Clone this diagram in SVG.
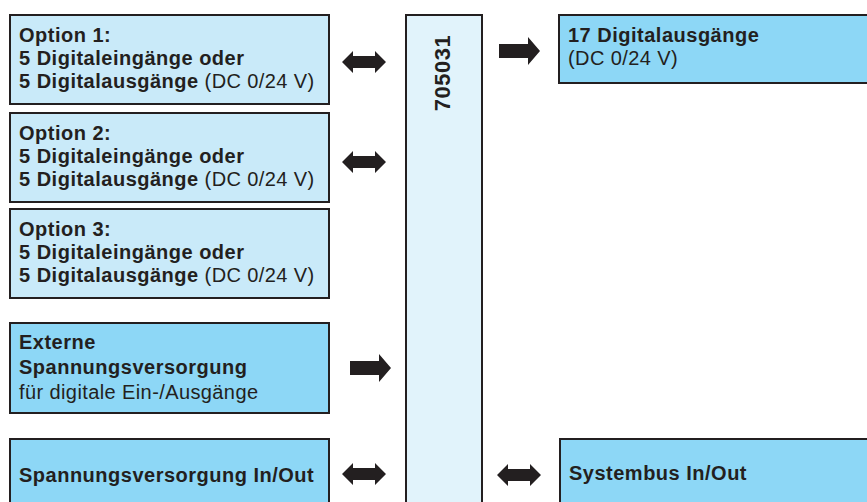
<svg xmlns="http://www.w3.org/2000/svg" width="867" height="502" viewBox="0 0 867 502">
<style>
.box{stroke:#231f20;stroke-width:2}
.l{fill:#c9eaf9}
.d{fill:#8dd7f6}
.c{fill:#e1f3fb}
text{font-family:"Liberation Sans",Arial,sans-serif;font-size:20px;fill:#231f20;letter-spacing:0.4px}
.b{font-weight:bold;letter-spacing:0.5px}
.arr{fill:#231f20}
</style>
<defs>
<path id="dbl" d="M0 0 L11 -11 L11 -6 L33 -6 L33 -11 L44 0 L33 11 L33 6 L11 6 L11 11 Z"/>
<path id="one" d="M0 -7 L29 -7 L29 -14 L41 0 L29 14 L29 7 L0 7 Z"/>
</defs>
<rect width="867" height="502" fill="#fff"/>
<g id="opt1">
<rect class="box l" x="10" y="15" width="319" height="89"/>
<text x="19" y="42" class="b">Option 1:</text>
<text x="19" y="65" class="b">5 Digitaleingänge oder</text>
<text x="19" y="88"><tspan class="b">5 Digitalausgänge</tspan> (DC 0/24 V)</text>
</g>
<g id="opt2">
<rect class="box l" x="10" y="113" width="319" height="89"/>
<text x="19" y="140" class="b">Option 2:</text>
<text x="19" y="163" class="b">5 Digitaleingänge oder</text>
<text x="19" y="186"><tspan class="b">5 Digitalausgänge</tspan> (DC 0/24 V)</text>
</g>
<g id="opt3">
<rect class="box l" x="10" y="209" width="319" height="89"/>
<text x="19" y="236" class="b">Option 3:</text>
<text x="19" y="259" class="b">5 Digitaleingänge oder</text>
<text x="19" y="282"><tspan class="b">5 Digitalausgänge</tspan> (DC 0/24 V)</text>
</g>
<g id="ext">
<rect class="box d" x="10" y="323" width="319" height="90"/>
<text x="19" y="349" class="b">Externe</text>
<text x="19" y="374" class="b">Spannungsversorgung</text>
<text x="19" y="399">für digitale Ein-/Ausgänge</text>
</g>
<g id="spv">
<rect class="box d" x="10" y="439" width="319" height="70"/>
<text x="19" y="482" class="b">Spannungsversorgung In/Out</text>
</g>
<g id="main">
<rect class="box c" x="406" y="15" width="76" height="500"/>
<text class="b" text-anchor="middle" transform="translate(450 73) rotate(-90)" style="font-size:22px;letter-spacing:0.5px">705031</text>
</g>
<g id="dout">
<rect class="box d" x="559" y="15" width="320" height="68"/>
<text x="568" y="42" class="b">17 Digitalausgänge</text>
<text x="568" y="65">(DC 0/24 V)</text>
</g>
<g id="sys">
<rect class="box d" x="560" y="439" width="320" height="70"/>
<text x="569" y="480" class="b">Systembus In/Out</text>
</g>
<g id="connectors" class="arr">
<use href="#dbl" x="342" y="62"/>
<use href="#dbl" x="342" y="162"/>
<use href="#one" x="350" y="368"/>
<use href="#dbl" x="342" y="474"/>
<use href="#one" x="499" y="51"/>
<use href="#dbl" x="497" y="475"/>
</g>
</svg>
